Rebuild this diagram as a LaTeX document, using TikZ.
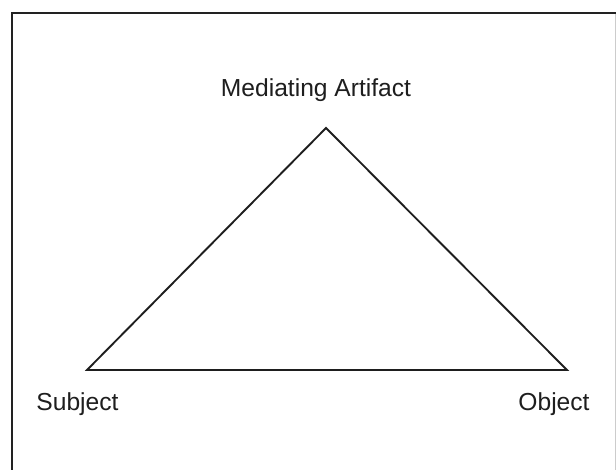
\documentclass[tikz,border=0pt]{standalone}
\usepackage{fontspec}
\setmainfont{Liberation Sans}
\usetikzlibrary{positioning, calc}
\definecolor{tinta}{HTML}{1E1E1E}
\definecolor{marco}{HTML}{222222}
\definecolor{grismarco}{HTML}{CCCCCC}
\tikzset{
  etiqueta/.style={font=\fontsize{21}{25}\selectfont, text=tinta, inner sep=0pt, anchor=base},
  lado/.style={draw=tinta, line width=1.6pt, line join=miter},
  borde/.style={draw=marco, line width=2.4pt}
}

\begin{document}
\begin{tikzpicture}[x=0.03cm, y=-0.03cm]
  \useasboundingbox (0,0) rectangle (616,469);
  \fill [white] (0,0) rectangle (616,469);
  \draw [borde] (12,480) -- (12,13) -- (616,13);
  \draw [grismarco, line width=0.8pt] (615,14) -- (615,480);
  \coordinate (artefacto) at (326,128);
  \coordinate (sujeto) at (87,370);
  \coordinate (objeto) at (567,370);
  \draw [lado] (sujeto) -- (artefacto) -- (objeto) -- cycle;
  \node (med) [etiqueta] at (316,96) {Mediating Artifact};
  \node (suj) [etiqueta] at (77.5,410) {Subject};
  \node (obj) [etiqueta] at (554,410) {Object};
\end{tikzpicture}
\end{document}
